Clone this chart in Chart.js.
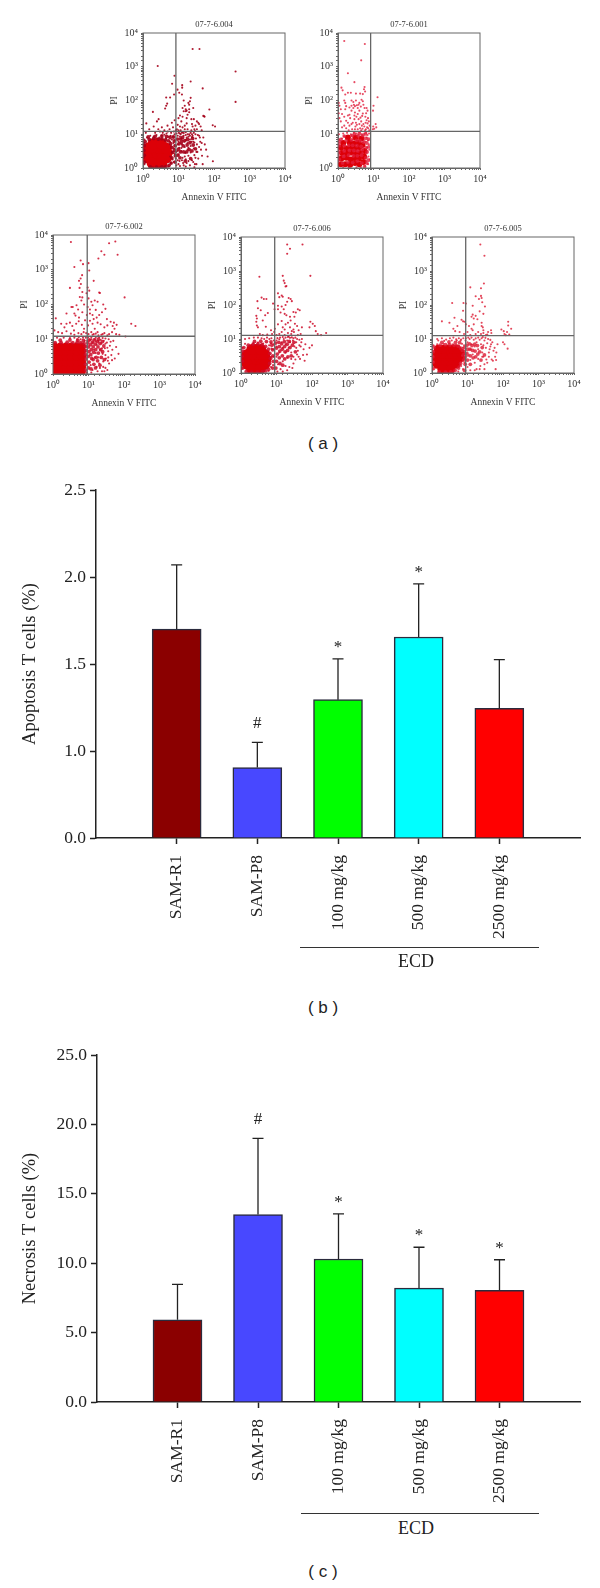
<!DOCTYPE html>
<html>
<head>
<meta charset="utf-8">
<script src="https://cdn.jsdelivr.net/npm/chart.js@4/dist/chart.umd.min.js"></script>
<style>
  html, body { margin: 0; padding: 0; background: #fff; }
  #page { position: relative; width: 600px; height: 1588px; overflow: hidden; }
  #page canvas { position: absolute; }
  .caption { position: absolute; width: 60px; text-align: center; font: 17px "Liberation Sans", sans-serif; color: #222; }
  .rule { position: absolute; height: 0; border-top: 1.5px solid #333; }
  .group { position: absolute; font: 18px "Liberation Serif", serif; color: #222; }
</style>
</head>
<body>
<div id="page">
  <canvas id="f004"></canvas><canvas id="f001"></canvas>
  <canvas id="f002"></canvas><canvas id="f006"></canvas><canvas id="f005"></canvas>
  <canvas id="apoptosis"></canvas><canvas id="necrosis"></canvas>
  <div class="caption" style="left:293px;top:434px">( a )</div>
  <div class="caption" style="left:293px;top:998px">( b )</div>
  <div class="caption" style="left:293px;top:1562px">( c )</div>
  <div class="rule" style="left:300px;top:947px;width:239px"></div>
  <div class="group" style="left:398px;top:951px">ECD</div>
  <div class="rule" style="left:301px;top:1513px;width:238px"></div>
  <div class="group" style="left:398px;top:1518px">ECD</div>
</div>
<script>
// flow cytometry panels, values are [Annexin V, PI]
const decadeTicks = { 1: "10\u2070", 10: "10\u00b9", 100: "10\u00b2", 1000: "10\u00b3", 10000: "10\u2074" };

const core004 = [[2.5,2.8],[1.8,2.8],[3.5,2.8],[1.3,2.8],[4.8,2.8],[2.5,1.9],[1.8,1.9],[3.5,1.9],[4.6,2],[1.35,2],[2.5,4],[1.8,4],[3.5,4],[4.5,3.9],[1.4,3.9],[2.5,1.35],[1.8,1.4],[3.4,1.4],[2.5,5.4],[1.9,5.2],[3.3,5.2]];
const halo004 = [[1.1,1.5],[1.08,2.4],[1.06,3.3],[1.08,4.6],[1.15,6],[1.5,7],[2,7.5],[2.7,7.2],[3.4,7.4],[4.3,6.8],[5.2,6.4],[6,5.3],[6.6,4],[6.9,2.9],[6.5,2],[6.2,1.4],[5.4,1.2],[4.4,1.1],[3.4,1.08],[2.4,1.06],[1.6,1.08],[7.6,6.3],[8,4.6],[7.8,3.3],[8.2,2.3],[8,1.5],[7.2,8.3],[5.8,8],[4.6,8.6],[3.4,8.9],[2.2,8.6],[1.4,8.3],[9.4,7.2],[10.4,5.2],[10,3.6],[9.6,2.4],[11,2],[11.4,3],[12,5.8],[11.5,7.2],[13,8],[13.6,4.5],[14,3],[15,6.5],[15.5,1.6],[17,3],[17.5,4.8],[18,7],[20,3.5],[21,5.6],[22,1.9],[24,3.2],[26,4.8],[25,7.5],[30,3.7]];
const cells004 = [[25,3340],[39,3340],[2.6,1050],[405,725],[405,91],[6.6,312],[7.7,540],[22,365],[48,228],[12.7,285],[12.7,240],[9.4,210],[1.9,46],[1.24,21],[2.75,28],[2.47,24],[4.5,123],[5.8,123],[4.8,81],[4.5,70],[4.2,58],[74,54],[53,34],[54,33],[92,18.5],[107,17],[93,1.58],
  [1.1,7],[1.3,8],[1.6,9],[2,8.5],[2.4,9.5],[2.9,8],[3.4,9],[4,9.7],[4.5,7.5],[5.3,8.5],[6,9],[6.5,7],[7,8.5],[7.7,10],[1.1,5.5],[1.05,3.5],[1.05,2],[1.1,1.3],[5.8,6],[6.2,4.5],[6.6,3],[5.9,2.2],[6.8,1.8],[6.1,1.4],[7.2,5.5],[7.5,3.8],[7.9,2.6],[7.4,1.5],[5.3,1.1],[4,1.05],[2.9,1.03],[1.9,1.05],[8,6.5],[8.3,4.5],[8.6,3],[8.4,1.9],[8.7,1.2],
  [9.5,9],[10,6],[10.5,4],[10,2.5],[10.7,1.6],[11,1.15],[11.5,10],[12,7.5],[12.5,5],[12,3.2],[13,2],[13.5,1.4],[14,9],[14.5,6],[15,4.2],[15.5,2.8],[16,1.8],[16,1.1],[17,8],[18,5.5],[18,3.5],[19,2.3],[20,10],[21,7],[22,4.5],[22,2.9],[24,1.7],[25,9],[26,6],[27,3.8],[28,2.4],[29,1.3],[31,7.5],[33,5],[34,3],[36,1.9],[38,9],[41,6],[43,3.5],[46,2.3],[50,8],[55,5],[60,3.5],[66,2.2],[48,1.3],[28,1.05],[14,1.2],[12,3.9],[16,6.8],[9.5,3.2],[9.6,5],[11,8.5],[13,6.5],[19,4],[23,6],[10,1.3],[17,1.4],[21,1.2],
  [1.5,14],[2,17],[2.7,14],[3.4,16],[4,13],[4.9,18],[5.6,14],[6.5,22],[7,16],[7.8,26],[8.4,13],[9,14],[10,13],[11,17],[12,24],[13,33],[14,48],[15,18],[16,55],[17,30],[18,14],[20,45],[21,95],[22,120],[24,20],[26,60],[27,28],[30,18],[33,14],[36,22],[42,17],[45,13],[50,35],[10,30],[11,36],[13,60],[14,100],[15,70],[16,48],[18,38],[19,85],[20,75],[23,28],[25,17],[28,14],[33,24],[38,20],[9.5,19],[12.5,150],[17,50],[20,55],[7.5,150],[10.5,170],
  [3,12],[5,12],[6.2,11],[7.4,12],[1.2,11],[2.2,11],[3.6,11],[4.6,10.5],[8.8,10.5],[10.2,11],[11,10.5],[12.5,11],[14,10.8],[16,11.5],[18,10],[22,11],[24,10],[27,11],[30,10],[35,9.5],[40,8],[45,5.5],[38,4.2],[32,3],[28,5.7],[24,8.2],[30,2],[26,1.5],[32,1.3],[19,1.6],[15,2.2],[12.5,1.7],[9.5,1.7],[16,9.5],[19,8.5],[21,9],[13,11.6],[11.5,13],[15,14],[13,16],[17,21],[23,13],[29,12.5]];

const core001 = [[1.2,1.3],[1.6,1.3],[2.2,1.25],[3,1.4],[4,1.3],[5.2,1.5],[1.25,1.9],[1.7,2],[2.3,1.8],[3,2],[3.9,1.9],[5.4,2.2],[1.3,2.8],[1.8,2.7],[2.4,2.9],[3.2,2.6],[4.2,2.8],[5.6,3.2],[1.2,4],[1.7,3.8],[2.3,4.2],[3,3.8],[4,4.1],[1.4,5.5],[2.1,5.8],[2.8,5.3],[3.7,5.7],[4.9,4.8],[1.9,8],[3.1,8],[4.5,7.5]];
const halo001 = [[1.35,1.4],[1.9,1.5],[2.6,1.45],[3.5,1.6],[4.7,1.4],[1.45,2.2],[2,2.4],[2.7,2.3],[3.5,2.3],[4.6,2.4],[1.5,3.2],[2.1,3.3],[2.8,3.3],[3.6,3.2],[4.8,3.5],[1.5,4.6],[2,4.7],[2.6,4.7],[3.4,4.6],[4.5,4.4],[1.7,6.5],[2.4,6.8],[3.3,6.6],[4.2,6.4],[5.3,5.8],[1.2,7],[1.5,8.8],[2.5,9.1],[3.7,9],[5,9.2],[6,7.5],[6.5,5.5],[6.2,4],[6.6,3],[6.1,2],[6.5,1.4],[5.6,1.1],[1.08,1.8],[1.06,2.9],[1.08,4.6],[1.1,6],[7.3,7.2],[7.4,4.2],[7.2,1.7],[2.9,10.2],[4,10.6],[6,10.2]];
const cells001 = [[1.5,5800],[5.7,4700],[4.5,1550],[1.9,640],[2.9,350],[1.25,240],[1.35,200],[5.6,250],[5.4,215],[1.9,170],[1.6,150],[2.3,170],[3.2,160],[4.2,160],[5,155],[5.8,185],[13,125],[10,70],[9.7,50],[1.05,85],[1.1,70],[1.5,100],[1.6,85],[2.4,100],[2.7,90],[3.2,100],[4,85],[4.6,105],[5,95],[2.4,70],[2.8,75],[3.4,72],[3.6,60],[1.05,42],[1.3,40],[1.6,55],[1.9,36],[2.4,50],[2.7,60],[3,44],[3.6,40],[4,50],[4.4,66],[4.8,35],[5.6,60],[6.2,42],[6.8,50],[1.1,30],[1.7,25],[2.2,30],[2.6,22],[2.9,28],[3.2,22],[3.8,28],[4.5,24],[5.2,20],[6.4,26],[7,30],[1.3,16],[1.7,15],[2.1,18],[2.5,14],[3.1,17],[3.6,14],[4.2,15],[4.9,14.5],[5.5,17],[6.1,14],[7.1,15],[7.8,18],[9.6,14],[9.8,17],[11.5,20],[12,16],[10.5,14.5],
  [1.06,10],[1.4,10.5],[1.8,11],[2.3,10],[2.8,11],[3.3,10.5],[4,11.3],[4.7,10],[5.5,10.5],[6.2,11],[6.8,9.5],[7.5,10.5],[6.5,8],[7,6.5],[6,6],[7.4,5],[6.6,4],[7.6,3.5],[6.4,2.7],[7.2,2.2],[6.2,1.6],[7,1.3],[7.8,1.8],[5.8,1.15],[4.4,1.05],[3.3,1.05],[2,1.04],[1.4,1.05],[1.04,1.5],[1.05,2.3],[1.05,3.5],[1.05,5.5],[1.06,7],[1.3,7.5],[2.6,7],[4.1,6.3],[5.3,6.4],[5,9],[3.6,9.2],[2.4,9],[1.5,8.7],[4.9,2.8],[3.5,3.2],[2,3.4],[1.5,2.3],
  [2,13],[3,14],[4.5,13],[5.8,13],[6.6,16],[7.6,13],[1.5,18],[1.9,22],[2.4,20],[3.4,19],[4,20],[4.7,18],[6,22],[6.8,21],[7.4,24],[1.2,24],[1.5,33],[2.1,38],[2.9,36],[3.3,33],[4.3,31],[5,41],[5.9,33],[6.4,60],[1.2,55],[1.7,68],[2.1,62],[3,68],[3.8,75],[5.2,75]];

const core002 = [[1.1,1.12],[1.6,1.12],[2.3,1.12],[3.2,1.12],[4.6,1.12],[6.4,1.15],[1.1,1.6],[1.6,1.6],[2.3,1.6],[3.2,1.6],[4.6,1.6],[6.5,1.6],[1.1,2.2],[1.6,2.2],[2.3,2.2],[3.2,2.2],[4.6,2.2],[6.5,2.2],[1.1,3.2],[1.6,3.2],[2.3,3.2],[3.2,3.2],[4.6,3.2],[6.5,3.2],[1.1,4.5],[1.6,4.5],[2.3,4.5],[3.2,4.5],[4.6,4.5],[6.5,4.5],[1.1,6.1],[1.6,6.1],[2.3,6.1],[3.2,6.1],[4.6,6.1],[6.4,6.1]];
const halo002 = [[8.3,1.3],[8.2,1.9],[8.4,2.7],[8.2,3.6],[8.5,4.7],[8.2,6.2],[7.5,7.6],[6,8],[4.8,8.2],[3.6,8],[2.5,8.2],[1.7,8],[1.15,8],[9.6,7.8],[10,6],[10.3,4.4],[9.8,3.2],[10.4,2.2],[10,1.5],[11.5,7],[12,5],[11.6,3.6],[12.3,2.8],[11.8,1.4],[13,8.2],[13.6,6],[14,4.2],[13.5,2.6],[14.2,1.9],[15.5,7.2],[16,5],[16.5,3],[15.8,1.5],[18,8.6],[18.5,6],[19,4],[18,2.4],[21,7.5],[22,5],[23,3],[21,1.8],[24.5,8.5],[25,4.4],[27,6.4],[28,2.6],[7.2,9.2],[5,9.4],[3,9.5],[1.6,9.4],[10.5,9.5],[14.5,9.6],[19,10]];
const cells002 = [[3.2,6300],[38,5800],[57,6500],[66,2700],[23,3400],[28,2700],[19,2100],[6,1850],[7,1450],[10,1550],[4,1200],[10.5,950],[6.6,700],[6,560],[5.4,480],[6.1,390],[14,480],[3,300],[5.6,300],[6.7,230],[9.5,310],[10.5,250],[8.8,210],[20,220],[21,215],[104,160],[5.7,165],[6.7,160],[10,150],[12,120],[15,130],[18,120],[26,100],[30,75],[3.3,85],[3.6,85],[4.6,95],[5.1,72],[6.3,130],[7.5,100],[9.5,85],[11,72],[13,95],[16,70],[24,60],[20,50],[2.4,55],[4,55],[4.3,48],[5.4,42],[6.7,60],[9,50],[11,55],[13,50],[14,38],[17,42],[1.2,40],[1.7,28],[2.1,22],[2.4,28],[3,30],[3.5,24],[3.9,18],[4.5,28],[5.3,33],[6.5,26],[7.5,20],[8,35],[9.7,25],[11,34],[13,28],[15,20],[18,30],[22,27],[28,22],[33,38],[42,32],[52,30],[62,26],[48,24],[54,20],[34,25],[160,28],[210,24],[110,12],[1.1,18],[1.4,16],[1.8,15],[2.4,17],[3.2,14.5],[4,13.5],[5.2,15],[6.3,14],[7.3,16],[8.6,15],[10,14],[12,16],[14,14],[18,16],[23,13.5],[28,15],[38,14],[46,16],[60,14],[74,13.5],[4.8,10],[6,10],[7.8,9],[9.2,9],[11,9.5],[13,8],[15,10],[17,7],[19,9],[21,5],[23,7.5],[25,3.8],[27,9],[29,5.5],[31,2.8],[33,8],[36,4.5],[40,6.5],[44,3.5],[50,9],[60,6],[70,3.8],[46,2.5],[38,2],[30,1.5],[24,1.2],[20,2],[17,1.6],[15,3],[13,1.3],[11.5,1.8],[14,5],[16,4],[19,3],[21,1.5],[26,2.3],[28,1.2],[34,1.3],[55,2.8],[24,5.5],[30,7.5],
  [1.3,11],[2,11],[3,10.8],[4,11],[5.3,11.5],[7,11],[8.4,11],[9.8,11.4],[12,11],[16,11],[20,11.5],[25,10.8],[30,10.5],[37,10],[34,5.7],[42,8.5],[30,3.5],[36,3],[26,1.6],[18,1.2],[12,1.1],[9,1.08],[35,2.4],[47,5],[22,9.6],[16,8.7],[12,9.8],[19,13],[25,14],[34,13],[13,13.5],[16,14.5]];

const core006 = [[2.75,2.5],[2,2.5],[3.7,2.5],[1.45,2.5],[5,2.5],[2.75,1.75],[2,1.75],[3.7,1.75],[4.7,1.8],[1.5,1.8],[2.75,1.25],[2,1.3],[3.5,1.3],[2.75,3.6],[2,3.6],[3.7,3.6],[4.7,3.5],[1.5,3.5],[2.75,5],[2,4.9],[3.6,4.9]];
const halo006 = [[1.1,1.4],[1.08,2.2],[1.06,3.1],[1.1,4.4],[1.2,5.6],[1.6,6.6],[2.2,7],[3,7.2],[3.9,6.8],[4.9,6.1],[5.9,5],[6.5,3.8],[6.8,2.7],[6.4,1.9],[6,1.3],[5,1.15],[4,1.1],[2.9,1.06],[2,1.06],[1.4,1.1],[7.4,6.6],[7.8,4.8],[7.9,3.2],[8.1,2.2],[7.8,1.4],[7,8.2],[5.2,8.4],[3.6,8.6],[2.4,8.5],[9.4,7.6],[10,5.4],[10.5,3.6],[10,2.2],[9.6,1.4],[11.6,8],[12,6],[12.4,4.4],[12,2.8],[12.5,1.9],[14,7.2],[14.5,5],[14.6,3.2],[15,1.7],[16.6,8.4],[17,6],[17.4,4.2],[17,2.6],[20,7],[20.5,4.6],[21,3],[23,8.5],[24,5.6],[26,3.2],[28,6.6],[31,8],[34,4.2]];
const cells006 = [[20,6000],[54,6000],[24,4500],[20,3200],[3.3,680],[90,720],[15,720],[17,440],[19,360],[18,350],[16,520],[11,220],[12,170],[14,190],[15,175],[3.8,165],[4.4,150],[5.2,150],[2.9,130],[22,160],[25,150],[8,110],[11,95],[14,90],[18,100],[16,75],[20,125],[27,130],[40,75],[45,70],[30,62],[35,60],[3,80],[3.6,70],[4.8,50],[5.7,58],[8.8,75],[11,75],[13,60],[17,55],[19,50],[24,45],[32,45],[2.7,48],[2.8,40],[4.1,35],[2.7,32],[2.8,25],[3,22],[5,23],[7,18],[9,20],[11,27],[15,22],[17,19],[18,27],[25,35],[33,28],[38,24],[42,18],[30,19],[24,22],[52,22],[90,32],[105,28],[120,24],[85,22],[128,17],[145,14],[250,15],[180,13],[3.4,14],[4.1,13],[5.5,13.5],[7.5,14],[8.6,16],[10,13],[12,14],[14,16],[17,13],[21,15],[26,14],[31,16],[40,13],[48,14],[1.3,10],[1.7,10.5],[2.3,11],[3,11],[3.8,10.5],[4.5,10],[5.4,11],[6.3,10],[7.2,10.5],[8.4,9],[10,9],[12,9.8],[14,8],[16,10],[18,7],[20,9],[22,5.5],[24,8],[26,4],[29,9],[32,6],[36,8],[40,4.5],[44,6.5],[50,8],[58,5],[65,7],[72,3.5],[85,5.5],[100,6.5],[62,2.3],[46,2.6],[38,3.5],[34,2.5],[30,1.9],[26,2.6],[23,1.5],[20,2.8],[18,1.6],[15,2.2],[13,1.3],[11,1.8],[10,3],[12,4],[15,5.5],[18,4],[10,6],[8.2,7],[8,5],[8.1,3],[8,1.7],[7,7.5],[7.2,5.2],[7,3],[7,1.5],[6,1.15],[6.2,6.5],[1.05,1.4],[1.05,2.2],[1.05,3.4],[1.1,5.5],[1.3,7.2],[2.2,7.5],[3,7.8],[4.2,7.3],
  [10.6,10.6],[12.6,11],[15,11.5],[18,11],[21,11.4],[24,10.8],[27,11.2],[30,10.5],[34,11],[38,10],[44,9.5],[52,10],[30,3],[36,5.5],[28,1.4],[20,1.2],[15,1.1],[10.6,1.1],[42,3],[56,3.4],[48,6],[22,12],[27,17],[21,30],[14,34]];

const core005 = [[2.6,2.5],[1.9,2.4],[3.6,2.5],[1.4,2.6],[4.9,2.6],[6.3,2.8],[2.6,1.7],[1.9,1.7],[3.6,1.7],[1.4,1.8],[4.8,1.8],[2.6,1.25],[1.9,1.3],[3.4,1.3],[2.6,3.6],[1.9,3.6],[3.6,3.6],[4.9,3.6],[6.3,3.9],[1.4,3.7],[2.8,5.1],[2,5],[3.8,5],[5,5],[1.5,5]];
const halo005 = [[1.1,1.35],[1.08,2.1],[1.06,3],[1.08,4.2],[1.15,5.8],[1.7,6.6],[2.4,6.8],[3.2,6.7],[4.2,6.5],[5.4,6.2],[6.4,5.4],[7.2,4.6],[7.6,3.4],[7.8,2.4],[6.4,1.9],[5.6,1.4],[4.5,1.2],[3.4,1.08],[2.4,1.06],[1.6,1.08],[8.2,5.6],[8.6,3.8],[8.4,2.8],[8.6,1.8],[8.2,1.2],[6,7.8],[4.6,8],[3,8.2],[1.9,8],[9.6,6.6],[10,5],[10.2,3.4],[10,2.4],[11.4,7.2],[11.8,5],[12,3.2],[12,1.8],[13.4,6.4],[14,4.6],[14.4,2.8],[16,7],[16.4,4.4],[17,3],[19,6.4],[19.5,3.6],[22,4.2],[24,2.4],[26,5.6],[30,3.4]];
const cells005 = [[23,6000],[30,2800],[29,430],[24,310],[12,330],[17,180],[21,150],[25,160],[24,185],[26,120],[31,90],[3.7,115],[7.7,115],[9,110],[7.5,68],[14,95],[22,65],[28,55],[1.9,33],[3.1,30],[4.3,42],[6.8,37],[7.5,33],[8.3,32],[13,45],[14,52],[15,40],[17,48],[19,38],[25,30],[25,24],[27,22],[28,18],[15,27],[13,20],[11,24],[9,27],[4,20],[4.5,17],[5.2,24],[6,16],[8,14],[10,16],[12,13],[14,18],[17,14],[20,16],[24,14],[28,15],[33,13],[38,16],[46,18],[47,15],[36,13.5],[90,19],[105,17],[140,32],[140,25],[130,16],[170,20],[150,13.5],[110,14],[120,13],[100,8],[110,7],[135,5.2],[1.4,10],[1.9,10.5],[2.5,9.6],[3.2,10.5],[4,11],[4.8,9.8],[5.7,10.5],[6.6,9.7],[7.6,10.5],[8.8,9],[10,8],[11.5,10],[13,7],[15,9.5],[16,6],[18,8],[20,5],[22,9.5],[24,7],[26,4],[28,6.5],[30,9],[33,5.5],[36,7.5],[40,4],[44,6],[50,8],[54,4.5],[60,3],[70,7],[48,2.5],[40,3],[34,2.5],[30,1.8],[26,3],[23,1.6],[20,2.6],[18,1.3],[16,2],[14,3.5],[12,2.4],[10,1.5],[10,4],[12,5],[9,3],[8,6.5],[8.4,4.5],[8.2,2],[7.5,1.3],[62,1.3],[64,2.4],[52,2.3],[7,7.2],[7.4,5.5],[7,3.2],[6.6,1.6],[5.5,1.1],[4,1.05],[2.6,1.03],[1.5,1.05],[1.04,1.3],[1.05,2],[1.05,3],[1.06,4.5],[1.1,6.5],[1.4,7],[2.1,7.2],[3,7.4],[3.9,7],[4.8,6.8],[5.8,6.2],[6.5,5],[5.9,1.6],[6.5,2.1],
  [1.5,9],[2.2,8.8],[3.6,9],[5,9],[6.4,9],[9,10.5],[10.5,11],[13,11],[17,10.4],[20,11],[25,10.5],[27,11.4],[32,10.8],[38,10],[44,9.4],[28,3],[36,2],[42,5],[46,7],[30,1.3],[22,1.3],[16,1.2],[12,1.2],[58,5.5],[65,4]];

// bar panels, ECD groups
const groups = ["SAM-R1", "SAM-P8", "100 mg/kg", "500 mg/kg", "2500 mg/kg"];
const barColors = ["#8b0000", "#4848ff", "#00ff00", "#00ffff", "#ff0000"];
const apoptosisMean = [1.7, 0.905, 1.295, 1.655, 1.245];
const apoptosisTop = [2.07, 1.05, 1.53, 1.96, 1.525];
const apoptosisMarks = ["", "#", "*", "*", ""];
// the printed axis goes 0.0, 1.0, 1.5, 2.0, 2.5 at even spacing
const apoptosisTicks = ["0.0", "1.0", "1.5", "2.0", "2.5"];
const necrosisMean = [5.92, 13.5, 10.3, 8.2, 8.05];
const necrosisTop = [8.48, 19.0, 13.55, 11.15, 10.25];
const necrosisMarks = ["", "#", "*", "*", "*"];
const necrosisTicks = ["0.0", "5.0", "10.0", "15.0", "20.0", "25.0"];

const SERIF = '"Liberation Serif", serif';
const INK = "#222";

(function () {
  "use strict";
  Chart.defaults.animation = false;
  Chart.defaults.responsive = false;

  makeCytogram("f004", 143.3, 32.7, 142.4, 135, "07-7-6.004", core004, halo004, cells004, 8.45, 12.2, "rgba(165,0,25,0.9)", 5.5);
  makeCytogram("f001", 338.3, 32.7, 142.7, 135, "07-7-6.001", core001, halo001, cells001, 8.3, 12.2, "rgba(225,30,60,0.8)", 3);
  makeCytogram("f002", 53.3, 234.7, 142.7, 139, "07-7-6.002", core002, halo002, cells002, 9.2, 12.2, "rgba(205,10,40,0.85)", 4.2);
  makeCytogram("f006", 241, 237.3, 142.7, 136.4, "07-7-6.006", core006, halo006, cells006, 8.9, 12.7, "rgba(205,10,40,0.85)", 5.5);
  makeCytogram("f005", 431.7, 237.3, 142.6, 136.4, "07-7-6.005", core005, halo005, cells005, 8.9, 12.5, "rgba(220,25,50,0.8)", 4.5);

  makeBars("apoptosis", 96, 490, 838, "Apoptosis T cells (%)", apoptosisMean, apoptosisTop, apoptosisMarks,
    { min: 0.5, max: 2.5, stepSize: 0.5 }, apoptosisTicks);
  makeBars("necrosis", 97, 1055, 1402, "Necrosis T cells (%)", necrosisMean, necrosisTop, necrosisMarks,
    { min: 0, max: 25, stepSize: 5 }, necrosisTicks);

  // --------- dot plots ---------

  function makeCytogram(id, left, top, w, h, title, core, halo, cells, gateX, gateY, dotColor, coreRadius) {
    const canvas = document.getElementById(id);
    canvas.width = w + 34 + 14;
    canvas.height = h + 14 + 36;
    canvas.style.left = (left - 34) + "px";
    canvas.style.top = (top - 14) + "px";
    const toPoints = a => a.map(p => ({ x: p[0], y: p[1] }));
    const logAxis = (text, size, titlePad) => ({
      type: "logarithmic", min: 1, max: 10000,
      border: { color: "#666", width: 1 },
      grid: { drawOnChartArea: false, tickLength: 2, tickColor: "#666" },
      ticks: {
        padding: 3, autoSkip: false, maxRotation: 0, minRotation: 0,
        color: "#333", font: { family: SERIF, size: 10 },
        callback: v => decadeTicks[v] || "",
      },
      title: { display: true, text: text, color: "#333", font: { family: SERIF, size: 9.5, lineHeight: "10px" }, padding: titlePad },
      afterFit: s => {
        if (s.isHorizontal()) s.height = size; else s.width = size;
        s.paddingLeft = s.paddingRight = s.paddingTop = s.paddingBottom = 0;
      },
    });
    return new Chart(canvas, {
      type: "scatter",
      data: {
        datasets: [
          { data: [{ x: gateX, y: 1 }, { x: gateX, y: 10000 }], showLine: true, borderColor: "#666", borderWidth: 1.3, pointRadius: 0 },
          { data: [{ x: 1, y: gateY }, { x: 10000, y: gateY }], showLine: true, borderColor: "#666", borderWidth: 1.3, pointRadius: 0 },
          { data: toPoints(cells), pointRadius: 1.05, borderWidth: 0, backgroundColor: dotColor },
          { data: toPoints(halo), pointRadius: 1.9, borderWidth: 0, backgroundColor: dotColor },
          { data: toPoints(core), pointRadius: coreRadius, borderWidth: 0, backgroundColor: "#dd0008" },
        ],
      },
      options: {
        layout: { padding: { right: 14 } },
        scales: {
          x: logAxis("Annexin V FITC", 36, { top: 0, bottom: 2 }),
          y: logAxis("PI", 34, { top: 0, bottom: 0 }),
        },
        plugins: {
          legend: { display: false },
          tooltip: { enabled: false },
          title: { display: true, fullSize: false, text: title, color: "#333", font: { family: SERIF, size: 8.5, weight: "normal", lineHeight: "10px" }, padding: { top: 1, bottom: 3 } },
        },
      },
      plugins: [{
        id: "frame",
        afterDraw(chart) {
          const a = chart.chartArea, ctx = chart.ctx;
          ctx.save();
          ctx.strokeStyle = "#666";
          ctx.lineWidth = 1;
          ctx.strokeRect(a.left, a.top, a.right - a.left, a.bottom - a.top);
          ctx.restore();
        },
      }],
    });
  }

  // --------- bar panels ---------

  function makeBars(id, axisX, top, bottom, yTitle, means, tops, marks, range, tickLabels) {
    const canvas = document.getElementById(id);
    const belowAxis = 110;
    canvas.width = 600;
    canvas.height = bottom - top + 10 + belowAxis;
    canvas.style.left = "0px";
    canvas.style.top = (top - 10) + "px";
    const fixed = size => s => {
      if (s.isHorizontal()) s.height = size; else s.width = size;
      s.paddingLeft = s.paddingRight = s.paddingTop = s.paddingBottom = 0;
    };
    return new Chart(canvas, {
      type: "bar",
      data: {
        // blank slots at both ends so the baseline runs past the bars
        labels: ["", ...groups, ""],
        datasets: [{
          data: [null, ...means, null],
          base: range.min,
          backgroundColor: ["", ...barColors, ""],
          borderColor: "rgba(20,20,40,0.9)",
          borderWidth: 1.5,
          barThickness: 49,
        }],
      },
      options: {
        layout: { padding: { top: 10, right: 20 } },
        scales: {
          x: {
            offset: false,
            border: { color: INK, width: 1.5 },
            grid: {
              offset: false, drawOnChartArea: false, tickLength: 6, tickWidth: 1.5,
              tickColor: c => (c.index >= 1 && c.index <= groups.length) ? INK : "transparent",
            },
            ticks: { autoSkip: false, minRotation: 90, maxRotation: 90, padding: 11, color: INK, font: { family: SERIF, size: 17.5 } },
            afterFit: fixed(belowAxis),
          },
          y: {
            min: range.min, max: range.max,
            border: { color: INK, width: 1.5 },
            grid: { drawOnChartArea: false, tickLength: 6, tickWidth: 1.5, tickColor: INK },
            ticks: { stepSize: range.stepSize, padding: 4, color: INK, font: { family: SERIF, size: 17.5 }, callback: (v, i) => tickLabels[i] },
            title: { display: true, text: yTitle, color: INK, font: { family: SERIF, size: 18.5, lineHeight: "21px" }, padding: { top: 20, bottom: 0 } },
            afterFit: fixed(axisX),
          },
        },
        plugins: { legend: { display: false }, tooltip: { enabled: false } },
      },
      plugins: [{
        id: "errorCaps",
        afterDatasetsDraw(chart) {
          const ctx = chart.ctx, xs = chart.scales.x, ys = chart.scales.y;
          const markShift = { "#": 14, "*": 7 };
          ctx.save();
          ctx.strokeStyle = INK;
          ctx.fillStyle = INK;
          ctx.lineWidth = 1.3;
          ctx.font = "17px " + SERIF;
          ctx.textAlign = "center";
          tops.forEach((t, i) => {
            const x = xs.getPixelForValue(i + 1);
            const y0 = ys.getPixelForValue(means[i]), y1 = ys.getPixelForValue(t);
            ctx.beginPath();
            ctx.moveTo(x, y0); ctx.lineTo(x, y1);
            ctx.moveTo(x - 5.5, y1); ctx.lineTo(x + 5.5, y1);
            ctx.stroke();
            if (marks[i]) ctx.fillText(marks[i], x, y1 - markShift[marks[i]]);
          });
          ctx.restore();
        },
      }],
    });
  }
})();
</script>
</body>
</html>
